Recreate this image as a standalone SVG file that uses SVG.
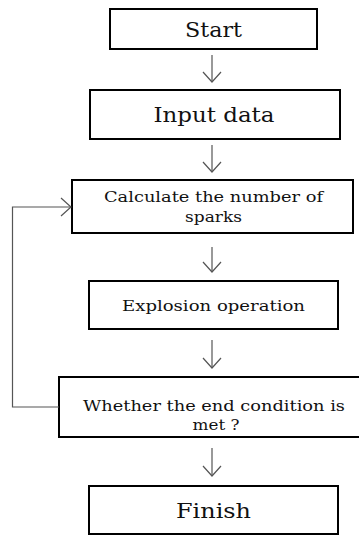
<svg xmlns="http://www.w3.org/2000/svg" width="359" height="535" viewBox="0 0 359 535">
<style>
.box{fill:#fff;stroke:#000;stroke-width:2}
.t{fill:#111;text-anchor:middle}
.c{fill:none;stroke:#555;stroke-width:1.2}
</style>
<defs>
<marker id="ah" viewBox="0 0 20 20" refX="16" refY="10" markerWidth="20" markerHeight="20" markerUnits="userSpaceOnUse" orient="auto">
<path d="M6,1 L16,10 L6,19" fill="none" stroke="#555" stroke-width="1.2"/>
</marker>
</defs>
<rect width="359" height="535" fill="#fff"/>
<g font-family="DejaVu Serif, serif">
<g id="start"><rect class="box" x="110" y="9" width="207" height="40"/><text class="t" x="213.5" y="37" font-size="20" textLength="57" lengthAdjust="spacingAndGlyphs">Start</text></g>
<g id="input"><rect class="box" x="90" y="90" width="250" height="49"/><text class="t" x="214" y="122" font-size="20" textLength="121" lengthAdjust="spacingAndGlyphs">Input data</text></g>
<g id="calc"><rect class="box" x="72" y="180" width="281" height="53"/><text class="t" x="213.5" y="202" font-size="15" textLength="219" lengthAdjust="spacingAndGlyphs">Calculate the number of</text><text class="t" x="213.5" y="222" font-size="15" textLength="57" lengthAdjust="spacingAndGlyphs">sparks</text></g>
<g id="explosion"><rect class="box" x="89" y="281" width="249" height="48"/><text class="t" x="213.5" y="311" font-size="15" textLength="183" lengthAdjust="spacingAndGlyphs">Explosion operation</text></g>
<g id="cond"><rect class="box" x="59" y="377" width="304" height="60"/><text class="t" x="214" y="411" font-size="15" textLength="262" lengthAdjust="spacingAndGlyphs">Whether the end condition is</text><text class="t" x="216" y="430" font-size="15" textLength="47" lengthAdjust="spacingAndGlyphs">met ?</text></g>
<g id="finish"><rect class="box" x="89" y="486" width="249" height="48"/><text class="t" x="213.5" y="518" font-size="20" textLength="75" lengthAdjust="spacingAndGlyphs">Finish</text></g>
</g>
<g id="connectors">
<path class="c" d="M212,55 V82" marker-end="url(#ah)"/>
<path class="c" d="M212,145 V172" marker-end="url(#ah)"/>
<path class="c" d="M212,247 V272" marker-end="url(#ah)"/>
<path class="c" d="M212,340 V368" marker-end="url(#ah)"/>
<path class="c" d="M212,448 V476" marker-end="url(#ah)"/>
<path class="c" d="M59,407 H12.5 V207 H71" marker-end="url(#ah)"/>
</g>
</svg>
